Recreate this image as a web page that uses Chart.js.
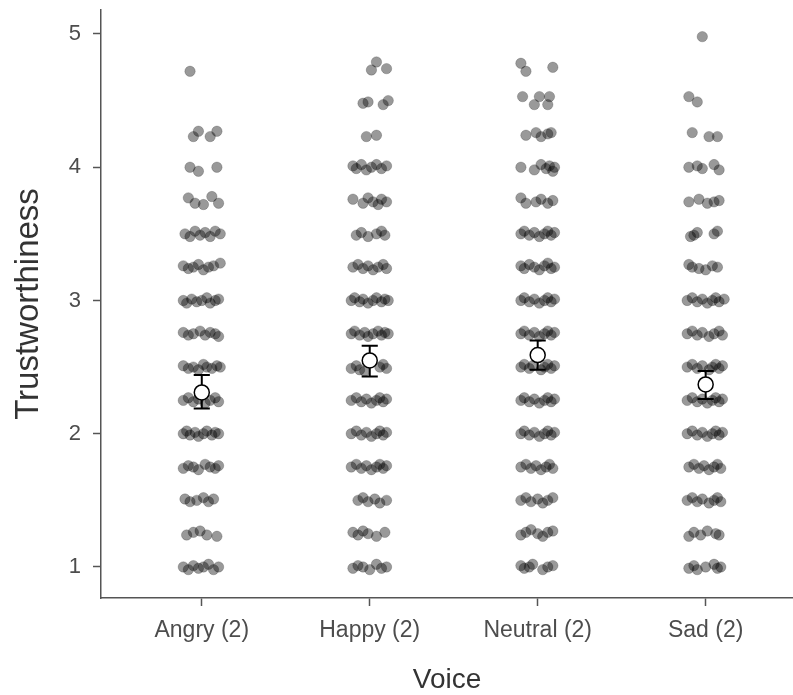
<!DOCTYPE html>
<html>
<head>
<meta charset="utf-8">
<script src="https://cdn.jsdelivr.net/npm/chart.js@4/dist/chart.umd.min.js"></script>
<style>
  html, body { margin: 0; padding: 0; background: #fff; }
  #wrap { width: 793px; height: 695px; }
</style>
</head>
<body>
<div id="wrap"><canvas id="myChart" width="793" height="695"></canvas></div>
<script>
'use strict';

// categories and axis ticks
var voiceLabels = ['Angry (2)', 'Happy (2)', 'Neutral (2)', 'Sad (2)'];
var yTicks = [1, 2, 3, 4, 5];

// means and error bar limits
var meanValues = [2.31, 2.55, 2.59, 2.37];
var lowValues = [2.19, 2.43, 2.48, 2.26];
var highValues = [2.44, 2.66, 2.70, 2.47];

// raw ratings: [value, horizontal jitter]
var angryPts = [
    [4.72, -0.07],
    [4.23, -0.05], [4.27, -0.02], [4.23, 0.05], [4.27, 0.09],
    [4.00, -0.07], [3.97, -0.02], [4.00, 0.09],
    [3.77, -0.08], [3.73, -0.04], [3.72, 0.01], [3.78, 0.06], [3.73, 0.10],
    [3.50, -0.10], [3.48, -0.07], [3.52, -0.04], [3.49, -0.01], [3.51, 0.02], [3.48, 0.05], [3.52, 0.08], [3.50, 0.11],
    [3.26, -0.11], [3.24, -0.08], [3.25, -0.05], [3.27, -0.02], [3.23, 0.01], [3.25, 0.04], [3.26, 0.07], [3.28, 0.11],
    [3.00, -0.11], [2.98, -0.09], [3.01, -0.06], [2.99, -0.03], [3.00, 0.00], [3.02, 0.03], [2.98, 0.05], [3.00, 0.08], [3.01, 0.10],
    [2.76, -0.11], [2.74, -0.08], [2.75, -0.05], [2.77, -0.01], [2.74, 0.02], [2.76, 0.05], [2.75, 0.08], [2.73, 0.10],
    [2.51, -0.11], [2.49, -0.08], [2.50, -0.05], [2.48, -0.02], [2.52, 0.01], [2.50, 0.03], [2.49, 0.06], [2.51, 0.09], [2.50, 0.11],
    [2.25, -0.11], [2.27, -0.08], [2.24, -0.05], [2.26, -0.02], [2.23, 0.02], [2.25, 0.05], [2.27, 0.08], [2.24, 0.10],
    [2.00, -0.11], [2.02, -0.09], [1.99, -0.07], [2.01, -0.04], [1.98, -0.02], [2.00, 0.01], [2.02, 0.03], [1.99, 0.06], [2.01, 0.08], [2.00, 0.10],
    [1.74, -0.11], [1.76, -0.08], [1.75, -0.05], [1.73, -0.02], [1.77, 0.02], [1.75, 0.05], [1.74, 0.08], [1.76, 0.10],
    [1.51, -0.10], [1.49, -0.07], [1.50, -0.03], [1.52, 0.01], [1.49, 0.04], [1.51, 0.07],
    [1.24, -0.09], [1.26, -0.05], [1.27, -0.01], [1.24, 0.03], [1.23, 0.09],
    [1.00, -0.11], [0.98, -0.08], [1.01, -0.05], [0.99, -0.02], [1.00, 0.01], [1.02, 0.04], [0.98, 0.07], [1.00, 0.10]
];

var happyPts = [
    [4.73, 0.01], [4.79, 0.04], [4.74, 0.10],
    [4.48, -0.04], [4.49, -0.01], [4.47, 0.08], [4.50, 0.11],
    [4.23, -0.02], [4.24, 0.04],
    [4.01, -0.10], [3.99, -0.08], [4.02, -0.05], [3.98, -0.02], [4.00, 0.01], [4.02, 0.04], [3.99, 0.07], [4.01, 0.10],
    [3.76, -0.10], [3.73, -0.04], [3.77, -0.01], [3.74, 0.02], [3.72, 0.05], [3.76, 0.07], [3.74, 0.10],
    [3.49, -0.08], [3.51, -0.05], [3.48, -0.01], [3.50, 0.04], [3.52, 0.07], [3.49, 0.09],
    [3.25, -0.10], [3.27, -0.07], [3.24, -0.04], [3.26, -0.01], [3.23, 0.02], [3.25, 0.05], [3.27, 0.08], [3.24, 0.10],
    [3.00, -0.11], [3.02, -0.09], [2.99, -0.06], [3.01, -0.04], [2.98, -0.01], [3.00, 0.02], [3.02, 0.04], [2.99, 0.07], [3.01, 0.09], [3.00, 0.11],
    [2.75, -0.11], [2.77, -0.09], [2.74, -0.06], [2.76, -0.03], [2.73, -0.01], [2.75, 0.02], [2.77, 0.05], [2.74, 0.07], [2.76, 0.09], [2.75, 0.11],
    [2.49, -0.11], [2.51, -0.08], [2.48, -0.06], [2.50, 0.06], [2.52, 0.08], [2.49, 0.10], [2.47, -0.03],
    [2.25, -0.11], [2.27, -0.08], [2.24, -0.05], [2.26, -0.02], [2.23, 0.01], [2.25, 0.04], [2.27, 0.06], [2.24, 0.08], [2.26, 0.10],
    [2.00, -0.11], [2.02, -0.08], [1.99, -0.05], [2.01, -0.02], [1.98, 0.01], [2.00, 0.04], [2.02, 0.06], [1.99, 0.08], [2.01, 0.10],
    [1.75, -0.11], [1.77, -0.08], [1.74, -0.05], [1.76, -0.02], [1.73, 0.01], [1.75, 0.04], [1.77, 0.06], [1.74, 0.08], [1.76, 0.10],
    [1.50, -0.07], [1.52, -0.04], [1.49, -0.01], [1.51, 0.03], [1.48, 0.06], [1.50, 0.10],
    [1.26, -0.10], [1.24, -0.07], [1.27, -0.04], [1.25, -0.01], [1.23, 0.04], [1.26, 0.09],
    [0.99, -0.10], [1.01, -0.07], [1.00, -0.04], [0.98, 0.00], [1.02, 0.04], [0.99, 0.07], [1.00, 0.10]
];

var neutralPts = [
    [4.78, -0.10], [4.72, -0.07], [4.75, 0.09],
    [4.53, -0.09], [4.47, -0.02], [4.53, 0.01], [4.47, 0.06], [4.53, 0.07],
    [4.24, -0.07], [4.26, -0.01], [4.23, 0.02], [4.25, 0.06], [4.26, 0.08],
    [4.00, -0.10], [3.98, -0.02], [4.02, 0.02], [3.99, 0.05], [4.01, 0.07], [3.97, 0.09], [4.00, 0.10],
    [3.77, -0.10], [3.73, -0.07], [3.74, -0.01], [3.76, 0.02], [3.73, 0.06], [3.75, 0.09],
    [3.50, -0.10], [3.52, -0.08], [3.49, -0.05], [3.51, -0.02], [3.48, 0.01], [3.50, 0.04], [3.52, 0.06], [3.49, 0.08], [3.51, 0.10],
    [3.26, -0.10], [3.24, -0.08], [3.27, -0.05], [3.25, -0.02], [3.23, 0.01], [3.26, 0.04], [3.28, 0.06], [3.24, 0.08], [3.25, 0.10],
    [3.00, -0.10], [3.02, -0.08], [2.99, -0.05], [3.01, -0.02], [2.98, 0.01], [3.00, 0.04], [3.02, 0.06], [2.99, 0.08], [3.01, 0.10],
    [2.75, -0.10], [2.77, -0.08], [2.74, -0.05], [2.76, -0.02], [2.73, 0.01], [2.75, 0.04], [2.77, 0.06], [2.74, 0.08], [2.76, 0.10],
    [2.50, -0.10], [2.52, -0.08], [2.49, -0.05], [2.51, -0.03], [2.48, 0.02], [2.50, 0.04], [2.52, 0.06], [2.49, 0.08], [2.51, 0.10],
    [2.25, -0.10], [2.27, -0.08], [2.24, -0.05], [2.26, -0.02], [2.23, 0.01], [2.25, 0.04], [2.27, 0.06], [2.24, 0.08], [2.26, 0.10],
    [2.00, -0.10], [2.02, -0.08], [1.99, -0.05], [2.01, -0.02], [1.98, 0.01], [2.00, 0.04], [2.02, 0.06], [1.99, 0.08], [2.01, 0.10],
    [1.75, -0.10], [1.77, -0.07], [1.74, -0.04], [1.76, -0.01], [1.73, 0.02], [1.75, 0.05], [1.77, 0.07], [1.74, 0.09],
    [1.50, -0.10], [1.52, -0.07], [1.49, -0.04], [1.51, 0.00], [1.48, 0.03], [1.50, 0.06], [1.52, 0.09],
    [1.24, -0.10], [1.26, -0.07], [1.28, -0.04], [1.25, 0.00], [1.23, 0.03], [1.26, 0.06], [1.27, 0.09],
    [1.01, -0.10], [0.99, -0.08], [1.00, -0.05], [1.02, -0.03], [0.98, 0.03], [1.00, 0.06], [1.01, 0.09]
];

var sadPts = [
    [4.98, -0.02],
    [4.53, -0.10], [4.49, -0.05],
    [4.26, -0.08], [4.23, 0.02], [4.23, 0.07],
    [4.00, -0.10], [4.01, -0.05], [3.99, -0.02], [4.02, 0.05], [3.98, 0.08],
    [3.74, -0.10], [3.76, -0.04], [3.73, 0.01], [3.75, 0.08], [3.74, 0.05],
    [3.48, -0.09], [3.51, -0.05], [3.50, 0.05], [3.52, 0.07], [3.49, -0.07],
    [3.25, -0.08], [3.24, -0.04], [3.26, 0.04], [3.25, 0.07], [3.27, -0.10], [3.23, 0.00],
    [3.00, -0.11], [3.02, -0.08], [2.99, -0.05], [3.01, -0.02], [2.98, 0.01], [3.00, 0.04], [3.02, 0.06], [2.99, 0.08], [3.01, 0.11],
    [2.75, -0.11], [2.77, -0.08], [2.74, -0.05], [2.76, -0.02], [2.73, 0.02], [2.75, 0.05], [2.77, 0.08], [2.74, 0.10],
    [2.50, -0.11], [2.52, -0.08], [2.49, -0.05], [2.51, -0.02], [2.48, 0.02], [2.50, 0.04], [2.52, 0.06], [2.49, 0.08], [2.51, 0.10],
    [2.25, -0.11], [2.27, -0.08], [2.24, -0.05], [2.26, -0.02], [2.23, 0.01], [2.25, 0.04], [2.27, 0.06], [2.24, 0.08], [2.26, 0.10],
    [2.00, -0.11], [2.02, -0.08], [1.99, -0.05], [2.01, -0.02], [1.98, 0.01], [2.00, 0.04], [2.02, 0.06], [1.99, 0.08], [2.01, 0.10],
    [1.75, -0.10], [1.77, -0.07], [1.74, -0.04], [1.76, -0.01], [1.73, 0.02], [1.75, 0.05], [1.77, 0.07], [1.74, 0.09],
    [1.50, -0.11], [1.52, -0.08], [1.49, -0.05], [1.51, -0.02], [1.48, 0.02], [1.50, 0.05], [1.52, 0.07], [1.49, 0.09],
    [1.23, -0.10], [1.26, -0.07], [1.24, -0.03], [1.27, 0.01], [1.25, 0.06], [1.24, 0.08],
    [0.99, -0.10], [1.01, -0.07], [0.98, -0.05], [1.00, 0.00], [1.02, 0.05], [0.99, 0.07], [1.00, 0.09]
];

(function () {
    var allPts = [angryPts, happyPts, neutralPts, sadPts];
    var rawData = [], meanData = [], barData = [];
    var capHalf = 0.048;
    var i, j;

    for (i = 0; i < allPts.length; i++) {
        for (j = 0; j < allPts[i].length; j++) {
            rawData.push({ x: i + allPts[i][j][1], y: allPts[i][j][0] });
        }
        meanData.push({ x: i, y: meanValues[i] });

        // vertical bar + two caps, separated by gaps
        barData.push({ x: i, y: lowValues[i] }, { x: i, y: highValues[i] }, { x: i, y: null });
        barData.push({ x: i - capHalf, y: lowValues[i] }, { x: i + capHalf, y: lowValues[i] }, { x: i, y: null });
        barData.push({ x: i - capHalf, y: highValues[i] }, { x: i + capHalf, y: highValues[i] }, { x: i, y: null });
    }

    var axisColor = '#555555';
    var fontFamily = "'Liberation Sans', Arial, sans-serif";

    function noPad(scale) {
        scale.paddingTop = 0;
        scale.paddingBottom = 0;
        scale.paddingLeft = 0;
        scale.paddingRight = 0;
    }

    var ctx = document.getElementById('myChart');
    var myChart = new Chart(ctx, {
        type: 'scatter',
        data: {
            datasets: [{
                data: rawData,
                pointRadius: 5.2,
                pointBackgroundColor: 'rgba(0,0,0,0.4)',
                pointBorderColor: 'rgba(0,0,0,0.2)',
                pointBorderWidth: 1,
                order: 3
            }, {
                data: barData,
                showLine: true,
                spanGaps: false,
                pointRadius: 0,
                borderColor: '#000000',
                borderWidth: 2,
                order: 2
            }, {
                data: meanData,
                pointRadius: 7.5,
                pointBackgroundColor: '#ffffff',
                pointBorderColor: '#000000',
                pointBorderWidth: 1.5,
                order: 1
            }]
        },
        options: {
            responsive: false,
            animation: false,
            devicePixelRatio: 1,
            layout: { autoPadding: false, padding: { top: 10, right: 0, left: 0, bottom: 0 } },
            plugins: {
                legend: { display: false },
                tooltip: { enabled: false }
            },
            scales: {
                x: {
                    type: 'linear',
                    min: -0.6,
                    max: 3.52,
                    afterBuildTicks: function (scale) {
                        scale.ticks = voiceLabels.map(function (l, k) { return { value: k }; });
                    },
                    afterFit: function (scale) {
                        scale.height = 97;
                        noPad(scale);
                    },
                    grid: {
                        display: true,
                        drawOnChartArea: false,
                        drawTicks: true,
                        tickLength: 8,
                        tickWidth: 1.5,
                        color: axisColor
                    },
                    border: { display: true, color: axisColor, width: 1.5 },
                    ticks: {
                        autoSkip: false,
                        maxRotation: 0,
                        padding: 11,
                        color: '#4d4d4d',
                        font: { family: fontFamily, size: 23 },
                        callback: function (value) { return voiceLabels[value]; }
                    },
                    title: {
                        display: true,
                        text: 'Voice',
                        color: '#333333',
                        font: { family: fontFamily, size: 28, lineHeight: 1 },
                        padding: { top: 0, bottom: 1 }
                    }
                },
                y: {
                    type: 'linear',
                    min: 0.767,
                    max: 5.18,
                    afterBuildTicks: function (scale) {
                        scale.ticks = yTicks.map(function (v) { return { value: v }; });
                    },
                    afterFit: function (scale) {
                        scale.width = 101;
                        noPad(scale);
                    },
                    grid: {
                        display: true,
                        drawOnChartArea: false,
                        drawTicks: true,
                        tickLength: 8,
                        tickWidth: 1.5,
                        color: axisColor
                    },
                    border: { display: true, color: axisColor, width: 1.5 },
                    ticks: {
                        padding: 12,
                        color: '#4d4d4d',
                        font: { family: fontFamily, size: 22 }
                    },
                    title: {
                        display: true,
                        text: 'Trustworthiness',
                        color: '#333333',
                        font: { family: fontFamily, size: 33, lineHeight: 1 },
                        padding: { top: 12, bottom: 0 }
                    }
                }
            }
        }
    });
})();
</script>
</body>
</html>
